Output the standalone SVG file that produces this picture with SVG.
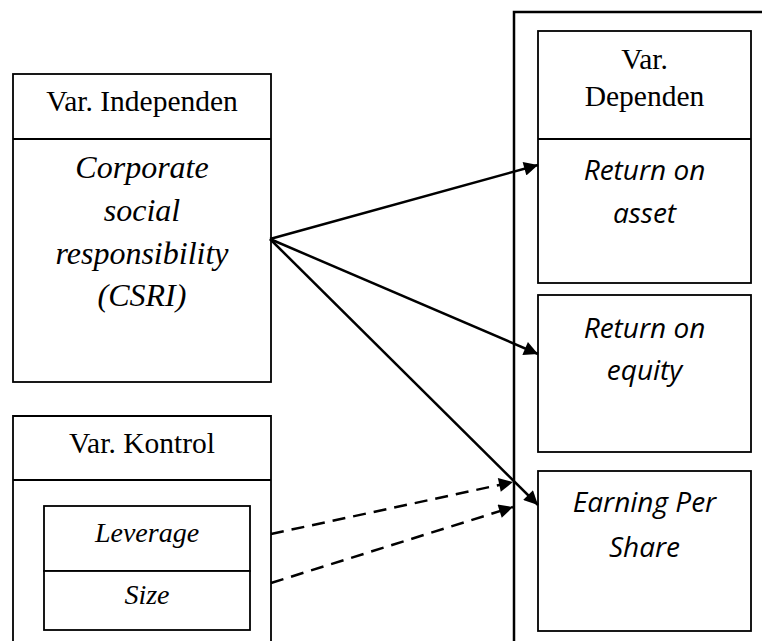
<svg xmlns="http://www.w3.org/2000/svg" width="762" height="641" viewBox="0 0 762 641">
<style>
.box{fill:#fff;stroke:#000;stroke-width:1.8}
.ln{stroke:#000;stroke-width:1.8}
.hd{font-family:"Liberation Serif","Times New Roman",serif;font-size:29.5px;text-anchor:middle;fill:#000}
.it{font-family:"Liberation Serif","Times New Roman",serif;font-style:italic;font-size:32px;text-anchor:middle;fill:#000}
.its{font-family:"Liberation Serif","Times New Roman",serif;font-style:italic;font-size:28px;text-anchor:middle;fill:#000}
.cal{font-family:"Open Sans","Noto Sans",sans-serif;font-style:italic;font-size:28px;text-anchor:middle;fill:#000}
.arr{stroke:#000;stroke-width:2.5;fill:none;marker-end:url(#ah)}
.dash{stroke:#000;stroke-width:2.5;fill:none;stroke-dasharray:13 8;marker-end:url(#ah)}
</style>
<defs>
<marker id="ah" viewBox="0 0 10 10" refX="10" refY="5" markerWidth="7.5" markerHeight="5.6" markerUnits="strokeWidth" orient="auto">
<path d="M0,0 L10,5 L0,10 z" fill="#000"/>
</marker>
</defs>
<rect x="0" y="0" width="762" height="641" fill="#fff"/>

<g id="container">
<path d="M514,645 L514,12 L770,12" fill="none" stroke="#000" stroke-width="2.5"/>
</g>

<g id="independen">
<rect class="box" x="13" y="74" width="258" height="308"/>
<line class="ln" x1="13" y1="139" x2="271" y2="139"/>
<text class="hd" x="142" y="111">Var. Independen</text>
<text class="it" x="142" y="178">Corporate</text>
<text class="it" x="142" y="221">social</text>
<text class="it" x="142" y="264">responsibility</text>
<text class="it" x="142" y="306">(CSRI)</text>
</g>

<g id="kontrol">
<path class="box" d="M13,645 L13,416 L271,416 L271,645"/>
<line class="ln" x1="13" y1="480" x2="271" y2="480"/>
<text class="hd" x="142" y="453">Var. Kontrol</text>
</g>

<g id="leverage">
<rect class="box" x="44" y="506" width="206" height="65"/>
<text class="its" x="147" y="542">Leverage</text>
</g>

<g id="size">
<rect class="box" x="44" y="571" width="206" height="59"/>
<text class="its" x="147" y="604">Size</text>
</g>

<g id="dependen-roa">
<rect class="box" x="538" y="31" width="213" height="252"/>
<line class="ln" x1="538" y1="139" x2="751" y2="139"/>
<text class="hd" x="644.5" y="69">Var.</text>
<text class="hd" x="644.5" y="106">Dependen</text>
<text class="cal" x="644.5" y="180">Return on</text>
<text class="cal" x="644.5" y="223">asset</text>
</g>

<g id="roe">
<rect class="box" x="538" y="295" width="213" height="157"/>
<text class="cal" x="644.5" y="338">Return on</text>
<text class="cal" x="644.5" y="380">equity</text>
</g>

<g id="eps">
<rect class="box" x="538" y="471" width="213" height="160"/>
<text class="cal" x="644.5" y="512">Earning Per</text>
<text class="cal" x="644.5" y="557">Share</text>
</g>

<g id="connectors">
<line class="arr" x1="270" y1="239" x2="538" y2="165"/>
<line class="arr" x1="270" y1="239" x2="538" y2="354"/>
<line class="arr" x1="270" y1="239" x2="538" y2="505"/>
<line class="dash" x1="271" y1="534" x2="513" y2="482"/>
<line class="dash" x1="271" y1="583" x2="513" y2="507"/>
</g>
</svg>
